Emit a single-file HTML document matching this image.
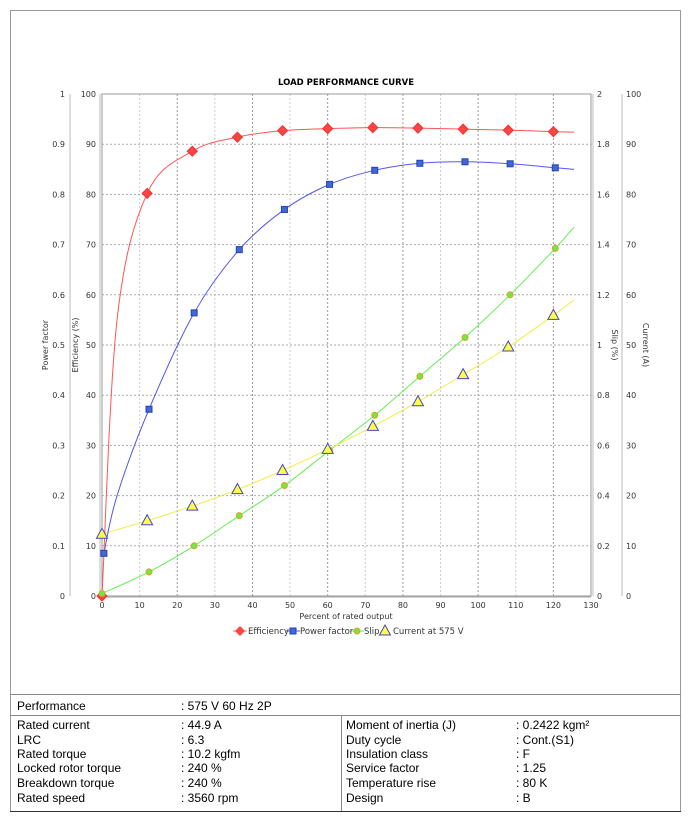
<!DOCTYPE html>
<html><head><meta charset="utf-8"><style>
body{margin:0;background:#fff;width:695px;height:826px;overflow:hidden;font-family:"Liberation Sans",sans-serif}
#frame{position:absolute;left:10px;top:10px;width:671px;height:802px;border:1px solid #999;box-sizing:border-box}
svg{position:absolute;left:0;top:0}
.t{position:absolute;font-size:12px;color:#000;white-space:nowrap}
.ln{position:absolute;background:#888}
</style></head><body>
<div id="frame"></div>
<svg id="chart" width="695" height="690"></svg>
<div class="ln" style="left:10px;top:694px;width:671px;height:1px"></div>
<div class="ln" style="left:10px;top:715px;width:671px;height:1px"></div>
<div class="ln" style="left:341px;top:715px;width:1px;height:97px"></div>
<div class="ln" style="left:10px;top:811px;width:671px;height:1px;background:#333"></div>
<div id="tbl"></div>
<script>
const xCats=[0,12,24,36,48,60,72,84,96,108,120];
const effVals=[0,80.2,88.6,91.4,92.7,93.1,93.3,93.2,93.0,92.8,92.5];
const pfX=[0.5,12.5,24.5,36.5,48.5,60.5,72.5,84.5,96.5,108.5,120.5];
const pfVals=[0.085,0.372,0.564,0.69,0.77,0.82,0.848,0.862,0.865,0.861,0.853];
const slipX=[0,12.5,24.5,36.5,48.5,60.5,72.5,84.5,96.5,108.5,120.5];
const slipVals=[0.01,0.096,0.2,0.32,0.44,0.58,0.72,0.875,1.03,1.2,1.385];
const curX=[0,12,24,36,48,60,72,84,96,108,120];
const curVals=[12.3,15.0,17.9,21.2,25.0,29.2,33.8,38.7,44.1,49.6,55.9];
const curveEndX=125.5;
const effEnd=92.4, pfEnd=0.85, slipEnd=1.47, curEnd=59.0;
const effEarly=[4,55], pfEarly=[4,0.2];
const xTicks=[0,10,20,30,40,50,60,70,80,90,100,110,120,130];
const pctTicks=[0,10,20,30,40,50,60,70,80,90,100];
const pfTicks=['0','0.1','0.2','0.3','0.4','0.5','0.6','0.7','0.8','0.9','1'];
const slipTicks=['0','0.2','0.4','0.6','0.8','1','1.2','1.4','1.6','1.8','2'];

const L=102,R=591,T=94,B=596;
const X=v=>L+(R-L)*v/130;
const Y=v=>B-(B-T)*v/100;
const svg=document.getElementById('chart');
const NS='http://www.w3.org/2000/svg';
function mk(tag,attrs,parent){const e=document.createElementNS(NS,tag);for(const k in attrs)e.setAttribute(k,attrs[k]);(parent||svg).appendChild(e);return e;}
function txt(x,y,s,opts){const e=mk('text',Object.assign({x:x,y:y,'font-size':8,'font-family':'DejaVu Sans, sans-serif',fill:'#333'},opts||{}));e.textContent=s;return e;}

xTicks.forEach((v,i)=>{if(i>0&&i<xTicks.length-1){const g=mk('line',{x1:X(v),x2:X(v),y1:T,y2:B,stroke:i%2?'#ccc':'#999','stroke-dasharray':'2,2','stroke-width':1});

}});
pctTicks.forEach((v,i)=>{if(i>0){const g=mk('line',{x1:L,x2:R,y1:Y(v),y2:Y(v),stroke:'#aaa','stroke-dasharray':'2,2','stroke-width':1});

}});
const pa=mk('rect',{x:L,y:T,width:R-L,height:B-T,fill:'none',stroke:'#999'});



[[70],[100],[593],[622]].forEach(a=>{const l=mk('line',{x1:a[0],x2:a[0],y1:T,y2:B,stroke:'#bbb'});

});
mk('line',{x1:L,x2:R,y1:B+1,y2:B+1,stroke:'#aaa'});
pctTicks.forEach((v,i)=>{
 const a=txt(65,Y(v)+3,pfTicks[i],{'text-anchor':'end'});
 
 
 const b=txt(96,Y(v)+3,String(v),{'text-anchor':'end'});
 
 
 const c=txt(597,Y(v)+3,slipTicks[i]);
 
 
 const d=txt(626,Y(v)+3,String(v));
 
 
});
xTicks.forEach(v=>{const t=txt(X(v),608,String(v),{'text-anchor':'middle'});

});
let e;
e=txt(346,85,'LOAD PERFORMANCE CURVE',{'text-anchor':'middle','font-weight':'bold','font-size':8.5,fill:'#000'});


e=txt(346,619,'Percent of rated output',{'text-anchor':'middle'});


e=txt(0,0,'Power factor',{'text-anchor':'middle',transform:'translate(48,345) rotate(-90)'});


e=txt(0,0,'Efficiency (%)',{'text-anchor':'middle',transform:'translate(78,345) rotate(-90)'});


e=txt(0,0,'Slip (%)',{'text-anchor':'middle',transform:'translate(612,345) rotate(90)'});


e=txt(0,0,'Current (A)',{'text-anchor':'middle',transform:'translate(643,345) rotate(90)'});



function smooth(pts){let d='M'+pts[0][0]+','+pts[0][1];
 for(let i=0;i<pts.length-1;i++){const p0=pts[i-1]||pts[i],p1=pts[i],p2=pts[i+1],p3=pts[i+2]||p2;
 const c1=[p1[0]+(p2[0]-p0[0])/6,p1[1]+(p2[1]-p0[1])/6],c2=[p2[0]-(p3[0]-p1[0])/6,p2[1]-(p3[1]-p1[1])/6];
 d+=' C'+c1+' '+c2+' '+p2;}return d;}
function curve(xs,vals,scale,end,color,name,early){
 let pts=xs.map((x,i)=>[X(x),Y(vals[i]*scale)]);
 if(early)pts.splice(1,0,[X(early[0]),Y(early[1]*scale)]);
 pts.push([X(curveEndX),Y(end*scale)]);
 const p=mk('path',{d:smooth(pts),fill:'none',stroke:color,'stroke-width':1});
 
 
}
curve(slipX,slipVals,50,slipEnd,'#66ee55','slip-line');
curve(curX,curVals,1,curEnd,'#eeee44','current-line');
curve(pfX,pfVals,100,pfEnd,'#5555ee','power-factor-line',pfEarly);
curve(xCats,effVals,1,effEnd,'#ff5555','efficiency-line',effEarly);
xCats.forEach((x,i)=>{const cx=X(x),cy=Y(effVals[i]);
 const m=mk('polygon',{points:`${cx},${cy-5} ${cx+5},${cy} ${cx},${cy+5} ${cx-5},${cy}`,fill:'#ff4444',stroke:'#ee3333'});
 
 });
pfX.forEach((x,i)=>{const cx=X(x),cy=Y(pfVals[i]*100);
 const m=mk('rect',{x:cx-3,y:cy-3,width:6,height:6,fill:'#4466dd',stroke:'#2244aa'});
 
 });
slipX.forEach((x,i)=>{const cx=X(x),cy=Y(slipVals[i]*50);
 const m=mk('circle',{cx:cx,cy:cy,r:3,fill:'#66ee44',stroke:'#ee9922'});
 
 });
curX.forEach((x,i)=>{const cx=X(x),cy=Y(curVals[i]);
 const m=mk('polygon',{points:`${cx},${cy-6} ${cx+5.5},${cy+4} ${cx-5.5},${cy+4}`,fill:'#ffff44',stroke:'#4444cc'});
 
 });
const lg=mk('g',{});


mk('line',{x1:233,x2:247,y1:631,y2:631,stroke:'#ff5555'},lg);
mk('polygon',{points:'240,626 245,631 240,636 235,631',fill:'#ff4444'},lg);
txt(248,634,'Efficiency',{'font-size':8.5});
mk('line',{x1:286,x2:300,y1:631,y2:631,stroke:'#5555ee'},lg);
mk('rect',{x:290,y:628,width:6,height:6,fill:'#4466dd',stroke:'#2244aa'},lg);
txt(300,634,'Power factor',{'font-size':8.5});
mk('line',{x1:350,x2:364,y1:631,y2:631,stroke:'#66ee55'},lg);
mk('circle',{cx:357,cy:631,r:3,fill:'#66ee44',stroke:'#ee9922'},lg);
txt(364,634,'Slip',{'font-size':8.5});
mk('polygon',{points:'385,625 390.5,635 379.5,635',fill:'#ffff44',stroke:'#4444cc'},lg);
txt(393,634,'Current at 575 V',{'font-size':8.5});

const rowsL=[['Rated current',': 44.9 A'],['LRC',': 6.3'],['Rated torque',': 10.2 kgfm'],['Locked rotor torque',': 240 %'],['Breakdown torque',': 240 %'],['Rated speed',': 3560 rpm']];
const rowsR=[['Moment of inertia (J)',': 0.2422 kgm²'],['Duty cycle',': Cont.(S1)'],['Insulation class',': F'],['Service factor',': 1.25'],['Temperature rise',': 80 K'],['Design',': B']];
const tbl=document.getElementById('tbl');
function cell(x,y,s,name){const d=document.createElement('div');d.className='t';d.style.left=x+'px';d.style.top=y+'px';d.textContent=s;
 
 
 tbl.appendChild(d);}
cell(17,699,'Performance','performance-label');cell(181,699,': 575 V 60 Hz 2P','performance-value');
const rowY=[718,733,747,761,776,791];
rowsL.forEach((r,i)=>{cell(17,rowY[i],r[0],'spec-label');cell(181,rowY[i],r[1],'spec-value');});
rowsR.forEach((r,i)=>{cell(346,rowY[i],r[0],'spec-label');cell(516,rowY[i],r[1],'spec-value');});
</script>
</body></html>
